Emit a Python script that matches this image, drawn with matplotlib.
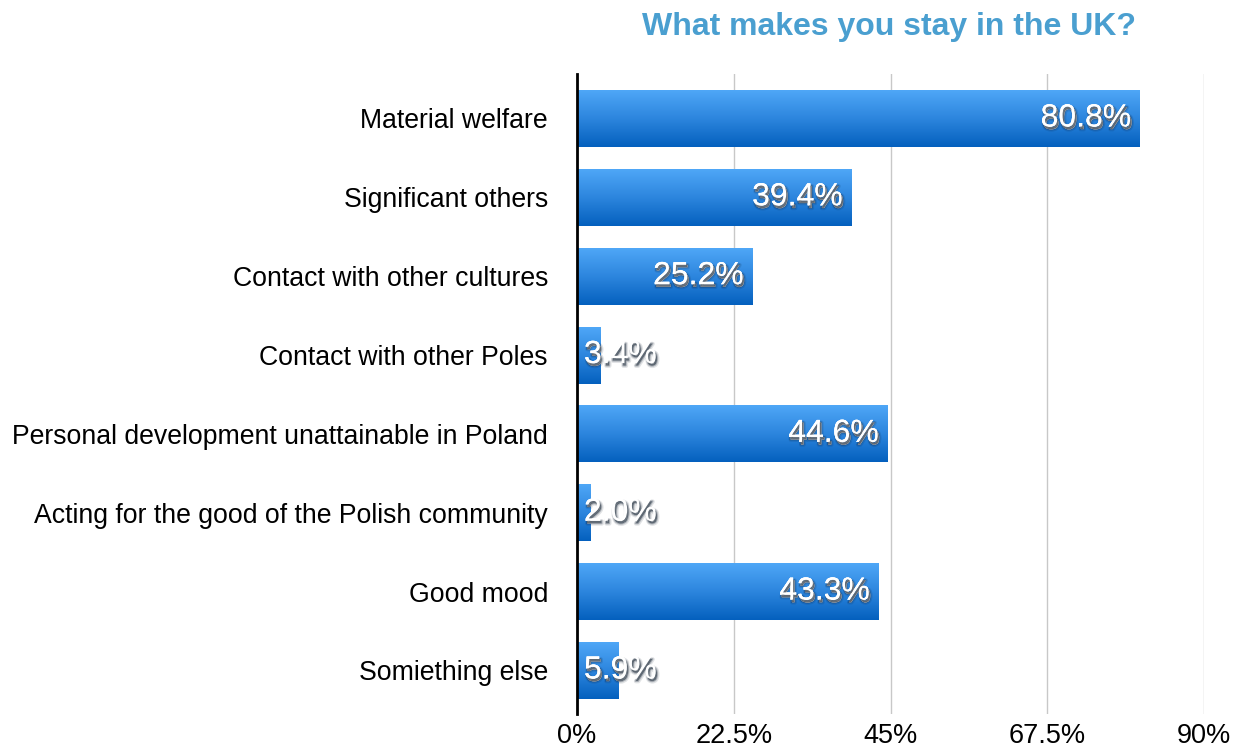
import numpy as np
import matplotlib
matplotlib.use("Agg")
import matplotlib.pyplot as plt
import matplotlib.patheffects as pe
from matplotlib.colors import LinearSegmentedColormap

plt.rcParams['font.family'] = ['Liberation Sans', 'DejaVu Sans']

title = "What makes you stay in the UK?"
categories = [
    "Material welfare",
    "Significant others",
    "Contact with other cultures",
    "Contact with other Poles",
    "Personal development unattainable in Poland",
    "Acting for the good of the Polish community",
    "Good mood",
    "Somiething else",
]
values = [80.8, 39.4, 25.2, 3.4, 44.6, 2.0, 43.3, 5.9]
xticks = [0, 22.5, 45, 67.5, 90]
xtick_labels = ["0%", "22.5%", "45%", "67.5%", "90%"]

fig = plt.figure(figsize=(12.37, 7.49), dpi=100)
ax = fig.add_axes([0.4665, 0.0467, 0.9733 - 0.4665, 0.9012 - 0.0467])

cmap = LinearSegmentedColormap.from_list("bar", ["#50a8f8", "#2d86de", "#0460be"])
grad = np.linspace(0, 1, 256).reshape(-1, 1)

bar_h = 0.723
ypos = np.arange(len(categories))
bars = ax.barh(ypos, values, height=bar_h, color="none", edgecolor="none", zorder=3)
for b in bars:
    x0, y0 = b.get_x(), b.get_y()
    w, h = b.get_width(), b.get_height()
    im = ax.imshow(grad, cmap=cmap, aspect="auto", interpolation="bicubic",
                   extent=[x0, x0 + w, y0 + h, y0], origin="upper", zorder=3)
    im.set_clip_path(b)

# soft drop shadow built from a few offset, translucent strokes
shadow = [
    pe.withStroke(linewidth=3.0, foreground=(0.05, 0.1, 0.18, 0.12), offset=(1.2, -2.0)),
    pe.withStroke(linewidth=1.5, foreground=(0.05, 0.1, 0.18, 0.25), offset=(1.0, -1.8)),
    pe.SimplePatchShadow(offset=(1.0, -1.8), shadow_rgbFace="#0a1a2a", alpha=0.55),
    pe.Normal(),
]
for y, v in zip(ypos, values):
    label = f"{v:.1f}%"
    if v > 12:
        ax.text(v - 1.25, y, label, ha="right", va="center", fontsize=23,
                color="white", path_effects=shadow, zorder=5)
    else:
        ax.text(1.0, y, label, ha="left", va="center", fontsize=23,
                color="white", path_effects=shadow, zorder=5)

ax.set_xlim(0, 90)
ax.set_ylim(7.552, -0.564)
ax.set_yticks(ypos)
ax.set_yticklabels(categories, fontsize=19.2)
ax.set_xticks(xticks)
ax.set_xticklabels(xtick_labels, fontsize=19.5)
ax.tick_params(axis="both", length=0)
ax.tick_params(axis="y", pad=21)
ax.tick_params(axis="x", pad=6.5)

for s in ["top", "right", "bottom"]:
    ax.spines[s].set_visible(False)
ax.spines["left"].set_linewidth(2)
ax.spines["left"].set_color("black")
ax.spines["left"].set_zorder(6)

ax.xaxis.grid(True, color="#c8c8c8", linewidth=1)
ax.set_axisbelow(True)

fig.text(0.7187, 0.964, title, ha="center", va="center", fontsize=23,
         fontweight="bold", color="#4a9fd0")

fig.savefig("out.png", dpi=100)
